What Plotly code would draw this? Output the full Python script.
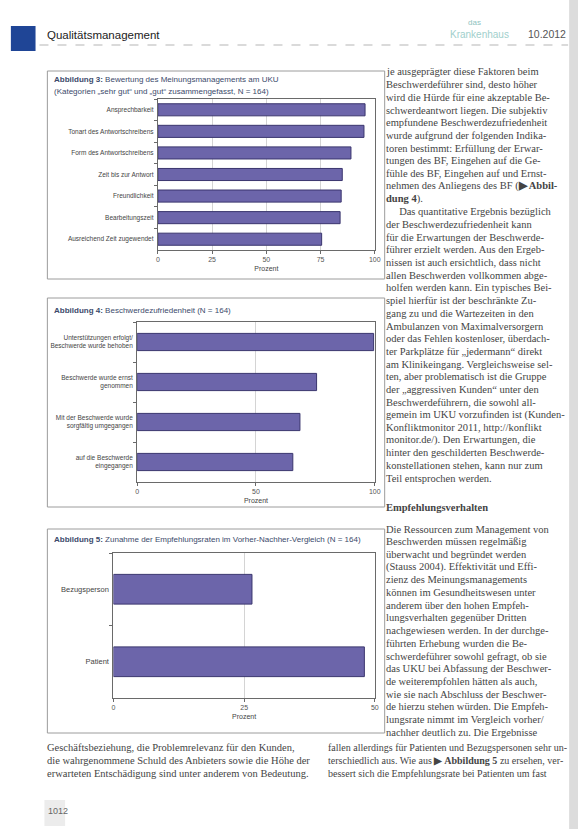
import plotly.graph_objects as go

W, H = 584, 829

# ---------------- data ----------------
abb3_labels = ["Ansprechbarkeit", "Tonart des Antwortschreibens", "Form des Antwortschreibens",
               "Zeit bis zur Antwort", "Freundlichkeit", "Bearbeitungszeit",
               "Ausreichend Zeit zugewendet"]
abb3_values = [95.5, 95.0, 89.0, 85.0, 84.5, 84.0, 75.5]
abb3_ticks = [0, 25, 50, 75, 100]

abb4_labels = ["Unterstützungen erfolgt/<br>Beschwerde wurde behoben",
               "Beschwerde wurde ernst<br>genommen",
               "Mit der Beschwerde wurde<br>sorgfältig umgegangen",
               "auf die Beschwerde<br>eingegangen"]
abb4_values = [99.5, 75.5, 68.5, 65.5]
abb4_ticks = [0, 50, 100]

abb5_labels = ["Bezugsperson", "Patient"]
abb5_values = [26.5, 48.0]
abb5_ticks = [0, 25, 50]

right_col_lines = [
    "je ausgeprägter diese Faktoren beim",
    "Beschwerdeführer sind, desto höher",
    "wird die Hürde für eine akzeptable Be-",
    "schwerdeantwort liegen. Die subjektiv",
    "empfundene Beschwerdezufriedenheit",
    "wurde aufgrund der folgenden Indika-",
    "toren bestimmt: Erfüllung der Erwar-",
    "tungen des BF, Eingehen auf die Ge-",
    "fühle des BF, Eingehen auf und Ernst-",
    "nehmen des Anliegens des BF (<b>▶ Abbil-</b>",
    "<b>dung 4</b>).",
    "     Das quantitative Ergebnis bezüglich",
    "der Beschwerdezufriedenheit kann",
    "für die Erwartungen der Beschwerde-",
    "führer erzielt werden. Aus den Ergeb-",
    "nissen ist auch ersichtlich, dass nicht",
    "allen Beschwerden vollkommen abge-",
    "holfen werden kann. Ein typisches Bei-",
    "spiel hierfür ist der beschränkte Zu-",
    "gang zu und die Wartezeiten in den",
    "Ambulanzen von Maximalversorgern",
    "oder das Fehlen kostenloser, überdach-",
    "ter Parkplätze für „jedermann“ direkt",
    "am Klinikeingang. Vergleichsweise sel-",
    "ten, aber problematisch ist die Gruppe",
    "der „aggressiven Kunden“ unter den",
    "Beschwerdeführern, die sowohl all-",
    "gemein im UKU vorzufinden ist (Kunden-",
    "Konfliktmonitor 2011, http://konflikt",
    "monitor.de/). Den Erwartungen, die",
    "hinter den geschilderten Beschwerde-",
    "konstellationen stehen, kann nur zum",
    "Teil entsprochen werden.",
]
heading_line = "<b>Empfehlungsverhalten</b>"
right_col_lines2 = [
    "Die Ressourcen zum Management von",
    "Beschwerden müssen regelmäßig",
    "überwacht und begründet werden",
    "(Stauss 2004). Effektivität und Effi-",
    "zienz des Meinungsmanagements",
    "können im Gesundheitswesen unter",
    "anderem über den hohen Empfeh-",
    "lungsverhalten gegenüber Dritten",
    "nachgewiesen werden. In der durchge-",
    "führten Erhebung wurden die Be-",
    "schwerdeführer sowohl gefragt, ob sie",
    "das UKU bei Abfassung der Beschwer-",
    "de weiterempfohlen hätten als auch,",
    "wie sie nach Abschluss der Beschwer-",
    "de hierzu stehen würden. Die Empfeh-",
    "lungsrate nimmt im Vergleich vorher/",
    "nachher deutlich zu. Die Ergebnisse",
]
bottom_left_lines = [
    "Geschäftsbeziehung, die Problemrelevanz für den Kunden,",
    "die wahrgenommene Schuld des Anbieters sowie die Höhe der",
    "erwarteten Entschädigung sind unter anderem von Bedeutung.",
]
bottom_right_lines = [
    "fallen allerdings für Patienten und Bezugspersonen sehr un-",
    "terschiedlich aus. Wie aus <b>▶ Abbildung 5</b> zu ersehen, ver-",
    "bessert sich die Empfehlungsrate bei Patienten um fast",
]

# ---------------- helpers ----------------
def fx(px):
    return px / W

def fy(py):
    return 1 - py / H

BAR = "#6c65aa"
BAR_LINE = "#3a356e"
SANS = "Liberation Sans, Arial, sans-serif"
SERIF = "Liberation Serif, Times New Roman, serif"
TXT = "#444444"

fig = go.Figure()

fig.add_trace(go.Bar(x=abb3_values, y=abb3_labels, orientation="h", xaxis="x", yaxis="y",
                     width=0.56, marker=dict(color=BAR, line=dict(color=BAR_LINE, width=1)),
                     showlegend=False))
fig.add_trace(go.Bar(x=abb4_values, y=abb4_labels, orientation="h", xaxis="x2", yaxis="y2",
                     width=0.43, marker=dict(color=BAR, line=dict(color=BAR_LINE, width=1)),
                     showlegend=False))
fig.add_trace(go.Bar(x=abb5_values, y=abb5_labels, orientation="h", xaxis="x3", yaxis="y3",
                     width=0.41, marker=dict(color=BAR, line=dict(color=BAR_LINE, width=1)),
                     showlegend=False))


def xax(x0, x1, anchor, rng, ticks):
    return dict(domain=[fx(x0), fx(x1)], anchor=anchor, range=rng, tickvals=ticks,
                showgrid=True, gridcolor="#d4d4d4", gridwidth=1, zeroline=False,
                showline=True, linecolor="#6a6a6a", linewidth=1, mirror=True,
                ticks="outside", ticklen=3, tickcolor="#6a6a6a",
                tickfont=dict(family=SANS, size=7, color="#555"),
                title=dict(text="Prozent", standoff=3, font=dict(family=SANS, size=7, color="#444")))


def yax(y_top, y_bot, anchor, cats, fs):
    return dict(domain=[fy(y_bot), fy(y_top)], anchor=anchor, type="category",
                categoryorder="array", categoryarray=cats, autorange="reversed",
                showline=True, linecolor="#6a6a6a", linewidth=1, mirror=True,
                ticks="outside", ticklen=3, tickcolor="#6a6a6a", tickson="boundaries",
                showgrid=False, tickfont=dict(family=SANS, size=fs, color="#444"),
                ticklabelstandoff=2)


fig.update_layout(
    width=W, height=H, margin=dict(l=0, r=0, t=0, b=0),
    paper_bgcolor="white", plot_bgcolor="white",
    xaxis=xax(158, 378, "y", [0, 100], abb3_ticks),
    yaxis=yax(99, 250, "x", abb3_labels, 6.5),
    xaxis2=xax(137, 378, "y2", [0, 100], abb4_ticks),
    yaxis2=yax(322, 482, "x2", abb4_labels, 6.5),
    xaxis3=xax(113, 378, "y3", [0, 50], abb5_ticks),
    yaxis3=yax(553, 698, "x3", abb5_labels, 7.5),
)

shapes = []
# chart frames
for (y0, y1) in [(71, 279), (298, 507), (529, 733)]:
    shapes.append(dict(type="rect", xref="paper", yref="paper", x0=fx(46), x1=fx(388),
                       y0=fy(y1), y1=fy(y0), line=dict(color="#9c9c9c", width=1)))
# header square & rule
shapes.append(dict(type="rect", xref="paper", yref="paper", x0=fx(9), x1=fx(34),
                   y0=fy(51), y1=fy(26), fillcolor="#1f4596", line=dict(width=0)))
shapes.append(dict(type="line", xref="paper", yref="paper", x0=fx(38), x1=fx(574),
                   y0=fy(45), y1=fy(45), line=dict(color="#b5b5b5", width=1, dash="dash")))
# scan shadow at right edge
shapes.append(dict(type="rect", xref="paper", yref="paper", x0=fx(575), x1=1,
                   y0=0, y1=1, fillcolor="#dcdcdc", line=dict(width=0)))
# page number patch
shapes.append(dict(type="rect", xref="paper", yref="paper", x0=fx(43), x1=fx(64),
                   y0=fy(826), y1=fy(800), fillcolor="#ececec", line=dict(width=0)))
fig.update_layout(shapes=shapes)

ann = []

def text(x, y, s, size=10, family=SERIF, color=TXT, xanchor="left"):
    ann.append(dict(xref="paper", yref="paper", x=fx(x), y=fy(y), text=s, showarrow=False,
                    xanchor=xanchor, yanchor="middle", align="left",
                    font=dict(family=family, size=size, color=color)))

# header
text(44, 35, "Qualitätsmanagement", size=11.5, family=SANS, color="#222")
text(470, 22, "das", size=8, family=SANS, color="#8fc3c0")
text(452, 34, "Krankenhaus", size=10, family=SANS, color="#9fcfcc")
text(574, 34, "10.2012", size=10.5, family=SANS, color="#555", xanchor="right")

# chart titles
TCOL = "#3b4a6b"
text(51, 79, "<b>Abbildung 3:</b> Bewertung des Meinungsmanagements am UKU", 8, SANS, TCOL)
text(51, 92, "(Kategorien „sehr gut“ und „gut“ zusammengefasst, N = 164)", 8, SANS, TCOL)
text(51, 310, "<b>Abbildung 4:</b> Beschwerdezufriedenheit (N = 164)", 8, SANS, TCOL)
text(51, 539, "<b>Abbildung 5:</b> Zunahme der Empfehlungsraten im Vorher-Nachher-Vergleich (N = 164)", 8, SANS, TCOL)

# right column text
LH = 12.7
for i, s in enumerate(right_col_lines):
    text(387, 72 + i * LH, s, size=10.5)
text(387, 507, heading_line, size=10.5)
for i, s in enumerate(right_col_lines2):
    text(387, 529 + i * LH, s, size=10.5)
for i, s in enumerate(bottom_left_lines):
    text(44, 747 + i * 13.3, s, size=10.5)
for i, s in enumerate(bottom_right_lines):
    text(329, 747 + i * 13.3, s, size=10)
text(45, 811, "1012", size=9, family=SANS, color="#666")

fig.update_layout(annotations=ann)

fig.write_html("out.html", config={"displayModeBar": False},
               post_script="document.body.style.margin='0';document.body.style.overflow='hidden';")
